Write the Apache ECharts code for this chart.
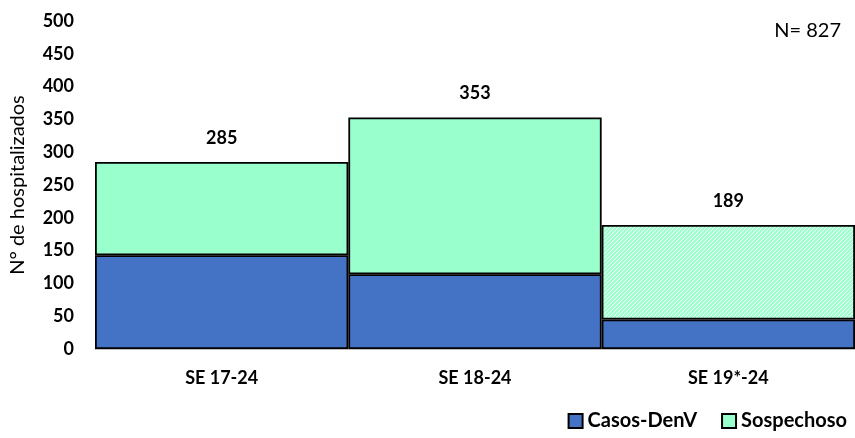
<!DOCTYPE html>
<html>
<head>
<meta charset="utf-8">
<script src="https://cdn.jsdelivr.net/npm/echarts@6/dist/echarts.min.js"></script>
<style>
html, body { margin: 0; padding: 0; background: #fff; }
#main { width: 855px; height: 438px; }
</style>
</head>
<body>
<div id="main"></div>
<script>
// datos
const categorias = ['SE 17-24', 'SE 18-24', 'SE 19*-24'];
const casosDenV = [143, 114, 45];
const sospechoso = [142, 239, 144];
const totales = [285, 353, 189];
const yTicks = [0, 50, 100, 150, 200, 250, 300, 350, 400, 450, 500];

const fuente = 'Lato, "Open Sans", sans-serif';

// patron rayado para la ultima semana (datos parciales)
function rayado() {
  const c = document.createElement('canvas');
  c.width = 4; c.height = 4;
  const ctx = c.getContext('2d');
  ctx.fillStyle = '#ffffff';
  ctx.fillRect(0, 0, 4, 4);
  ctx.strokeStyle = '#99ffcc';
  ctx.lineWidth = 2;
  ctx.beginPath();
  ctx.moveTo(0, 4); ctx.lineTo(4, 0);
  ctx.moveTo(-1, 1); ctx.lineTo(1, -1);
  ctx.moveTo(3, 5); ctx.lineTo(5, 3);
  ctx.stroke();
  return c;
}

const myChart = echarts.init(document.getElementById('main'));
const option = {
  animation: false,
  textStyle: { fontFamily: fuente },
  grid: { left: 95, right: 0, top: 21, bottom: 89 },
  legend: {
    right: 3, bottom: 2,
    itemWidth: 14, itemHeight: 14, itemGap: 24,
    icon: 'rect',
    textStyle: { fontSize: 20, fontWeight: 'bold', color: '#000', fontFamily: fuente },
    data: ['Casos-DenV', 'Sospechoso']
  },
  graphic: [{
    type: 'text', right: 14, top: 21,
    style: { text: 'N= 827', fontSize: 20, fill: '#000', fontFamily: fuente }
  }],
  xAxis: {
    type: 'category',
    data: categorias,
    axisLine: { lineStyle: { color: '#bfbfbf', width: 1 } },
    axisTick: { show: false },
    axisLabel: { fontSize: 18, fontWeight: 'bold', color: '#000', margin: 20 }
  },
  yAxis: {
    type: 'value',
    min: yTicks[0], max: yTicks[yTicks.length - 1], interval: 50,
    name: 'N° de hospitalizados',
    nameLocation: 'middle',
    nameGap: 67,
    nameTextStyle: { fontSize: 20, color: '#000', fontFamily: fuente },
    axisLine: { show: false },
    axisTick: { show: false },
    splitLine: { show: false },
    axisLabel: { fontSize: 18, fontWeight: 'bold', color: '#000', margin: 21 }
  },
  series: [
    {
      name: 'Casos-DenV',
      type: 'bar',
      stack: 'total',
      barCategoryGap: 0,
      data: casosDenV,
      itemStyle: { color: '#4472c4', borderColor: '#000', borderWidth: 1.8 }
    },
    {
      name: 'Sospechoso',
      type: 'bar',
      stack: 'total',
      barCategoryGap: 0,
      data: sospechoso.map((v, i) => i === 2
        ? { value: v, itemStyle: { color: { image: rayado(), repeat: 'repeat' } } }
        : v),
      itemStyle: { color: '#99ffcc', borderColor: '#000', borderWidth: 1.8 },
      label: {
        show: true,
        position: 'top',
        distance: 15,
        formatter: p => totales[p.dataIndex],
        fontSize: 18,
        fontWeight: 'bold',
        color: '#000',
        fontFamily: fuente
      }
    }
  ]
};
myChart.setOption(option);
</script>
</body>
</html>
